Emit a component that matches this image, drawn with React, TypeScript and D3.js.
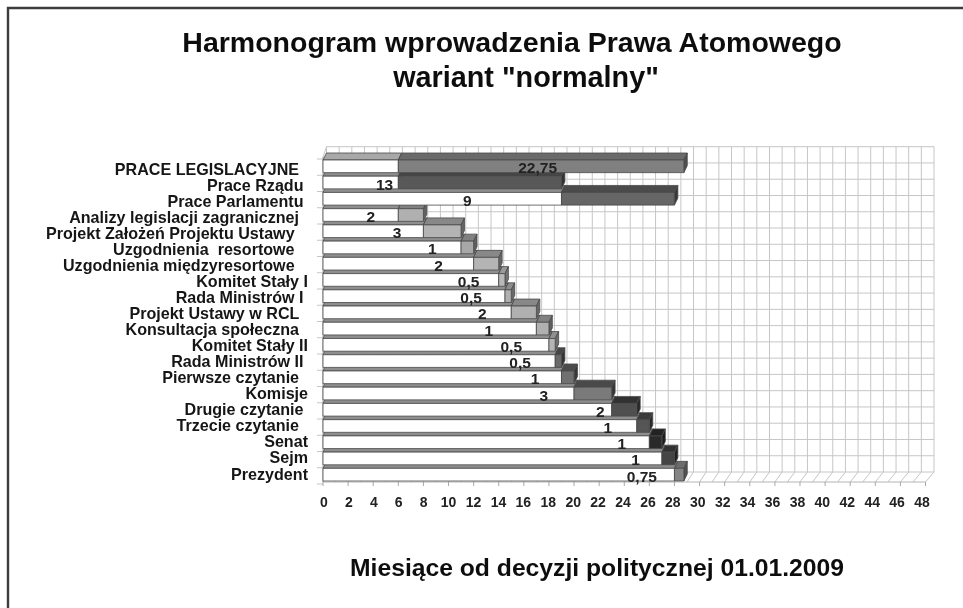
import React from "react";
import * as d3 from "d3";

const categories = [
  "PRACE LEGISLACYJNE  ", "Prace Rządu ", "Prace Parlamentu ", "Analizy legislacji zagranicznej  ",
  "Projekt Założeń Projektu Ustawy   ", "Uzgodnienia  resortowe   ", "Uzgodnienia międzyresortowe   ",
  "Komitet Stały I", "Rada Ministrów I ", "Projekt Ustawy w RCL  ", "Konsultacja społeczna  ",
  "Komitet Stały II", "Rada Ministrów II ", "Pierwsze czytanie  ", "Komisje", "Drugie czytanie ",
  "Trzecie czytanie  ", "Senat", "Sejm", "Prezydent",
];
const startMonths = [6, 6, 19, 6, 8, 11, 12, 14, 14.5, 15, 17, 18, 18.5, 19, 20, 23, 25, 26, 27, 28];
const durations = [22.75, 13, 9, 2, 3, 1, 2, 0.5, 0.5, 2, 1, 0.5, 0.5, 1, 3, 2, 1, 1, 1, 0.75];
const durationLabels = ["22,75", "13", "9", "2", "3", "1", "2", "0,5", "0,5", "2", "1", "0,5", "0,5", "1", "3", "2", "1", "1", "1", "0,75"];
const labelMonths = [17.1, 4.9, 11.5, 3.8, 5.9, 8.7, 9.2, 11.6, 11.8, 12.7, 13.2, 15, 15.7, 16.9, 17.6, 22.1, 22.7, 23.8, 24.9, 25.4];
const faceShades = ["#808080", "#595959", "#666666", "#b0b0b0", "#b4b4b4", "#a8a8a8", "#b4b4b4", "#b8b8b8", "#b0b0b0", "#b0b0b0", "#b0b0b0", "#b4b4b4", "#6a6a6a", "#707070", "#7a7a7a", "#505050", "#555555", "#2c2c2c", "#444444", "#858585"];
const topShades = ["#6a6a6a", "#444444", "#4c4c4c", "#808080", "#888888", "#808080", "#888888", "#999999", "#8c8c8c", "#888888", "#808080", "#909090", "#444444", "#4c4c4c", "#484848", "#333333", "#3a3a3a", "#222222", "#303030", "#6c6c6c"];
const xTicks = d3.range(0, 50, 2);
const gridMonths = d3.range(0, 49, 1);

const FONT = "'Liberation Sans', Arial, sans-serif";
const W = 963, H = 608;

const x = d3.scaleLinear().domain([0, 48]).range([323, 925.5]);
const xLabel = d3.scaleLinear().domain([0, 48]).range([324, 922]);
const xBack = d3.scaleLinear().domain([0, 48]).range([326.5, 934]);
const y = d3.scaleBand<string>().domain(categories).range([158.2, 482.8]).paddingInner(0.22).paddingOuter(0.11);
const yCategoryLabel = d3.scalePoint<string>().domain(categories).range([169.5, 474]);
const rows = d3.range(0, 21);
const yBack = d3.scaleLinear().domain([0, 20]).range([146.7, 472]);
const yLeft = d3.scaleLinear().domain([0, 20]).range([157, 482]);
const DX = 3.4, DY = 7;
const GRID = "#c6c6c6";
const EDGE = "#4a4a4a";

function Box({ x0, x1, top, h, face, roof }: { x0: number; x1: number; top: number; h: number; face: string; roof: string }) {
  const pts = (a: [number, number][]) => a.map((p) => p.join(",")).join(" ");
  return (
    <g stroke={EDGE} strokeWidth={0.8} strokeLinejoin="round">
      <polygon fill={roof} points={pts([[x0, top], [x0 + DX, top - DY], [x1 + DX, top - DY], [x1, top]])} />
      <polygon fill={d3.color(roof)!.darker(0.8).formatHex()} points={pts([[x1, top], [x1 + DX, top - DY], [x1 + DX, top + h - DY], [x1, top + h]])} />
      <rect x={x0} y={top} width={x1 - x0} height={h} fill={face} />
    </g>
  );
}

export default function App() {
  const h = y.bandwidth();
  const order = d3.range(categories.length).reverse();
  return (
    <svg width={W} height={H} viewBox={`0 0 ${W} ${H}`} style={{ position: "absolute", left: 0, top: 0, background: "#fff", display: "block" }}>
      <defs>
        <filter id="soft" x="0" y="0" width="100%" height="100%">
          <feGaussianBlur stdDeviation={0.45} />
        </filter>
      </defs>
      <g filter="url(#soft)">
        <rect x={0} y={0} width={W} height={H} fill="#fff" />
        <path d={`M8,${H} V8 H${W}`} fill="none" stroke="#3c3c3c" strokeWidth={2.4} />

        <g fontFamily={FONT} fontWeight={700} fill="#111" textAnchor="middle">
          <text x={512} y={52} fontSize={28.5}>Harmonogram wprowadzenia Prawa Atomowego</text>
          <text x={526} y={87} fontSize={28.8}>wariant "normalny"</text>
          <text x={597} y={576} fontSize={24.7}>Miesiące od decyzji politycznej 01.01.2009</text>
        </g>

        <g stroke={GRID} strokeWidth={1} fill="none">
          {gridMonths.map((m) => (
            <g key={m}>
              <line x1={xBack(m)} x2={xBack(m)} y1={yBack(0)} y2={yBack(20)} />
              <line x1={xBack(m)} x2={x(m)} y1={yBack(20)} y2={yLeft(20)} />
            </g>
          ))}
          {rows.map((r) => (
            <g key={r}>
              <line x1={xBack(0)} x2={xBack(48)} y1={yBack(r)} y2={yBack(r)} />
              <line x1={317} x2={x(0)} y1={yLeft(r) + 2} y2={yLeft(r) + 2} />
            </g>
          ))}
          <line x1={x(0)} x2={xBack(0)} y1={yLeft(0)} y2={yBack(0)} />
          <line x1={x(0)} x2={x(48)} y1={yLeft(20)} y2={yLeft(20)} stroke="#b5b5b5" />
          <line x1={x(0)} x2={x(0)} y1={yLeft(0)} y2={yLeft(20)} stroke="#a0a0a0" />
          {xTicks.map((t) => (
            <line key={t} x1={x(t)} x2={x(t)} y1={yLeft(20)} y2={yLeft(20) + 4} stroke="#a8a8a8" />
          ))}
        </g>

        {order.map((i) => {
          const c = categories[i];
          const top = y(c)!;
          const start = startMonths[i];
          const end = start + durations[i];
          return (
            <g key={c}>
              <Box x0={x(0)} x1={x(start)} top={top} h={h} face="#ffffff" roof={i === 0 ? "#a8a8a8" : "#8e8e8e"} />
              <Box x0={x(start)} x1={x(end)} top={top} h={h} face={faceShades[i]} roof={topShades[i]} />
            </g>
          );
        })}

        <g fontFamily={FONT} fontWeight={700} fontSize={15.5} fill="#222" textAnchor="middle">
          {categories.map((c, i) => (
            <text key={c} x={x(labelMonths[i])} y={y(c)! + h / 2 + 7}>{durationLabels[i]}</text>
          ))}
        </g>

        <g fontFamily={FONT} fontWeight={700} fontSize={16.1} fill="#151515" textAnchor="end">
          {categories.map((c) => (
            <text key={c} x={308} y={yCategoryLabel(c)! + 5.5} style={{ whiteSpace: "pre" }}>{c}</text>
          ))}
        </g>

        <g fontFamily={FONT} fontWeight={700} fontSize={14} fill="#222" textAnchor="middle">
          {xTicks.map((t) => (
            <text key={t} x={xLabel(t)} y={507}>{t}</text>
          ))}
        </g>
      </g>
    </svg>
  );
}
